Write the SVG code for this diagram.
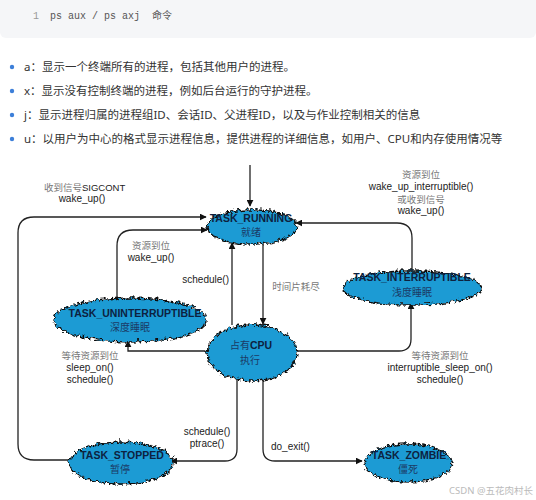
<svg xmlns="http://www.w3.org/2000/svg" width="536" height="500" viewBox="0 0 536 500">
<style>
.code{font-family:"Liberation Mono","DejaVu Sans Mono","Noto Sans CJK SC",monospace;font-size:10px;fill:#555;white-space:pre}
.bul{font-family:"Noto Sans","Noto Sans CJK SC",sans-serif;font-size:11.5px;fill:#333}
.dot{fill:#3d7fd9}
.cloud{fill:#1e9bd4;stroke:#111;stroke-width:1.3;filter:url(#wavy)}
.tb{font-family:"Liberation Sans","Noto Sans CJK SC",sans-serif;font-weight:bold;font-size:10.5px;fill:#0d2240;text-anchor:middle}
.tc{font-family:"Noto Sans CJK SC",sans-serif;font-size:10px;fill:#1b3a66;text-anchor:middle}
.lz{font-family:"Noto Sans CJK SC",serif;font-size:9.5px;fill:#777;text-anchor:middle}
.le{font-family:"Liberation Sans","DejaVu Sans",sans-serif;font-size:10px;fill:#222;text-anchor:middle}
.ln{fill:none;stroke:#222;stroke-width:1.3}
</style>
<defs>
<filter id="wavy" x="-15%" y="-30%" width="130%" height="160%">
<feTurbulence type="turbulence" baseFrequency="0.22" numOctaves="1" seed="7" result="t"/>
<feDisplacementMap in="SourceGraphic" in2="t" scale="6" xChannelSelector="R" yChannelSelector="G"/>
</filter>
<marker id="ah" viewBox="0 0 10 10" refX="9" refY="5" markerWidth="7" markerHeight="7" markerUnits="userSpaceOnUse" orient="auto">
<path d="M0,0 L10,5 L0,10 z" fill="#111"/>
</marker>
</defs>
<rect x="0" y="0" width="536" height="500" fill="#fff"/>
<rect x="0" y="-8" width="536" height="46" rx="6" fill="#f5f6f8"/>
<text x="33" y="19" class="code" style="fill:#999">1</text>
<text x="50" y="19" class="code">ps aux / ps axj  命令</text>

<circle cx="12" cy="67" r="2.2" class="dot"/>
<text x="24" y="71" class="bul">a：显示一个终端所有的进程，包括其他用户的进程。</text>
<circle cx="12" cy="91" r="2.2" class="dot"/>
<text x="24" y="95" class="bul">x：显示没有控制终端的进程，例如后台运行的守护进程。</text>
<circle cx="12" cy="115" r="2.2" class="dot"/>
<text x="24" y="119" class="bul">j：显示进程归属的进程组ID、会话ID、父进程ID，以及与作业控制相关的信息</text>
<circle cx="12" cy="139" r="2.2" class="dot"/>
<text x="24" y="143" class="bul">u：以用户为中心的格式显示进程信息，提供进程的详细信息，如用户、CPU和内存使用情况等</text>

<g id="connectors">
<path class="ln" marker-end="url(#ah)" d="M250,165 V206"/>
<path class="ln" marker-end="url(#ah)" d="M68,460 H34 Q18,460 18,444 V233 Q18,217 34,217 H206"/>
<path class="ln" marker-end="url(#ah)" d="M117,297 V246 Q117,230 133,230 H207"/>
<path class="ln" marker-end="url(#ah)" d="M232,325 V243"/>
<path class="ln" marker-end="url(#ah)" d="M263,243 V324"/>
<path class="ln" marker-end="url(#ah)" d="M412,270 V238 Q412,223 397,223 H296"/>
<path class="ln" marker-end="url(#ah)" d="M296,351 H399 Q411,351 411,339 V303"/>
<path class="ln" marker-end="url(#ah)" d="M205,351 H128 V341"/>
<path class="ln" marker-end="url(#ah)" d="M237,380 V449 Q237,461 225,461 H171"/>
<path class="ln" marker-end="url(#ah)" d="M263,380 V449 Q263,461 275,461 H362"/>
</g>

<g id="running">
<ellipse class="cloud" cx="250" cy="225" rx="45" ry="17"/>
<text x="251" y="222" class="tb">TASK_RUNNING</text>
<text x="251" y="236" class="tc">就绪</text>
</g>
<g id="interruptible">
<ellipse class="cloud" cx="410" cy="286" rx="69" ry="17"/>
<text x="412" y="281" class="tb">TASK_INTERRUPTIBLE</text>
<text x="412" y="296" class="tc">浅度睡眠</text>
</g>
<g id="uninterruptible">
<ellipse class="cloud" cx="128" cy="318" rx="76" ry="22"/>
<text x="135" y="317" class="tb">TASK_UNINTERRUPTIBLE</text>
<text x="130" y="331" class="tc">深度睡眠</text>
</g>
<g id="cpu">
<ellipse class="cloud" cx="250" cy="351" rx="45" ry="28"/>
<text x="251" y="349" class="tb"><tspan style="font-weight:normal;font-family:'Noto Sans CJK SC',sans-serif;font-size:10px;fill:#1b3a66">占有</tspan>CPU</text>
<text x="250" y="364" class="tc">执行</text>
</g>
<g id="stopped">
<ellipse class="cloud" cx="119" cy="461" rx="52" ry="21"/>
<text x="122" y="459" class="tb">TASK_STOPPED</text>
<text x="120" y="473" class="tc">暂停</text>
</g>
<g id="zombie">
<ellipse class="cloud" cx="406" cy="461" rx="44" ry="19"/>
<text x="409" y="459" class="tb">TASK_ZOMBIE</text>
<text x="408" y="473" class="tc">僵死</text>
</g>

<g id="labels">
<text x="44" y="191" class="lz" style="text-anchor:start">收到信号</text>
<text x="82" y="191" class="le" style="text-anchor:start;font-size:9.5px">SIGCONT</text>
<text x="82" y="202" class="le">wake_up()</text>
<text x="151" y="249" class="lz">资源到位</text>
<text x="151" y="261" class="le">wake_up()</text>
<text x="229" y="283" class="le" style="text-anchor:end">schedule()</text>
<text x="296" y="290" class="lz">时间片耗尽</text>
<text x="421" y="178" class="lz">资源到位</text>
<text x="421" y="190" class="le">wake_up_interruptible()</text>
<text x="421" y="203" class="lz">或收到信号</text>
<text x="421" y="214" class="le">wake_up()</text>
<text x="90" y="359" class="lz">等待资源到位</text>
<text x="90" y="371" class="le">sleep_on()</text>
<text x="90" y="383" class="le">schedule()</text>
<text x="440" y="359" class="lz">等待资源到位</text>
<text x="440" y="371" class="le">interruptible_sleep_on()</text>
<text x="440" y="383" class="le">schedule()</text>
<text x="207" y="435" class="le">schedule()</text>
<text x="207" y="447" class="le">ptrace()</text>
<text x="271" y="450" class="le" style="text-anchor:start">do_exit()</text>
</g>
<text x="533" y="494" style="font-family:'Noto Sans','Noto Sans CJK SC',sans-serif;font-size:9.5px;fill:#bbb;text-anchor:end">CSDN @五花肉村长</text>
</svg>
